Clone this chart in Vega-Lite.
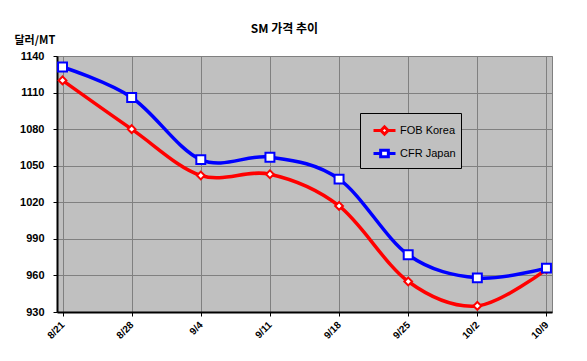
{
  "$schema": "https://vega.github.io/schema/vega-lite/v6.json",
  "width": 495,
  "height": 256,
  "autosize": {"type": "none"},
  "padding": {"left": 57, "top": 56, "right": 35, "bottom": 49},
  "background": "white",
  "title": {
    "text": "SM 가격 추이",
    "font": "Noto Sans CJK KR",
    "fontSize": 12,
    "fontWeight": "bold",
    "color": "black",
    "anchor": "middle",
    "frame": "group",
    "dx": -20,
    "dy": 6
  },
  "config": {
    "view": {"fill": "#C0C0C0", "stroke": "#808080", "strokeWidth": 1},
    "axis": {
      "labelFont": "Liberation Sans",
      "labelFontWeight": "bold",
      "labelFontSize": 11,
      "labelColor": "black",
      "domainColor": "black",
      "domainWidth": 2,
      "tickColor": "black",
      "gridColor": "#808080",
      "gridWidth": 1,
      "gridOpacity": 1
    }
  },
  "data": {
    "values": [
      {"date": "8/21", "series": "FOB Korea", "value": 1120},
      {"date": "8/28", "series": "FOB Korea", "value": 1080},
      {"date": "9/4", "series": "FOB Korea", "value": 1042},
      {"date": "9/11", "series": "FOB Korea", "value": 1043},
      {"date": "9/18", "series": "FOB Korea", "value": 1017},
      {"date": "9/25", "series": "FOB Korea", "value": 955},
      {"date": "10/2", "series": "FOB Korea", "value": 935},
      {"date": "10/9", "series": "FOB Korea", "value": 965},
      {"date": "8/21", "series": "CFR Japan", "value": 1131},
      {"date": "8/28", "series": "CFR Japan", "value": 1106},
      {"date": "9/4", "series": "CFR Japan", "value": 1055},
      {"date": "9/11", "series": "CFR Japan", "value": 1057},
      {"date": "9/18", "series": "CFR Japan", "value": 1039},
      {"date": "9/25", "series": "CFR Japan", "value": 977},
      {"date": "10/2", "series": "CFR Japan", "value": 958},
      {"date": "10/9", "series": "CFR Japan", "value": 966}
    ]
  },
  "encoding": {
    "x": {
      "field": "date",
      "type": "ordinal",
      "sort": ["8/21", "8/28", "9/4", "9/11", "9/18", "9/25", "10/2", "10/9"],
      "scale": {"type": "point", "padding": 0.08},
      "axis": {
        "title": null,
        "labelAngle": -45,
        "labelAlign": "right",
        "labelBaseline": "middle",
        "labelFontSize": 10,
        "labelPadding": 7,
        "tickSize": 4,
        "grid": true
      }
    },
    "y": {
      "field": "value",
      "type": "quantitative",
      "scale": {"domain": [930, 1140], "nice": false, "zero": false},
      "axis": {
        "values": [930, 960, 990, 1020, 1050, 1080, 1110, 1140],
        "format": "d",
        "title": "달러/MT",
        "titleFont": "Noto Sans CJK KR",
        "titleFontSize": 11,
        "titleFontWeight": "bold",
        "titleColor": "black",
        "titleAngle": 0,
        "titleAlign": "left",
        "titleBaseline": "middle",
        "titleX": -43,
        "titleY": -16,
        "tickSize": 4,
        "labelPadding": 9,
        "grid": true
      }
    },
    "color": {
      "field": "series",
      "type": "nominal",
      "scale": {"domain": ["FOB Korea", "CFR Japan"], "range": ["#FF0000", "#0000FF"]},
      "legend": {
        "title": null,
        "orient": "none",
        "legendX": 303,
        "legendY": 57,
        "symbolSize": 484,
        "symbolOffset": 7,
        "labelOffset": 3,
        "labelFont": "Liberation Sans",
        "labelFontSize": 11,
        "labelColor": "black",
        "fillColor": "#C0C0C0",
        "strokeColor": "black",
        "padding": 5,
        "rowPadding": -12,
        "encode": {
          "symbols": {
            "update": {
              "shape": {"signal": "datum.value === 'FOB Korea' ? 'M-1,0L-0.33,0M0.33,0L1,0M-0.33,0L0,-0.33L0.33,0L0,0.33Z' : 'M-1,0L-0.35,0M0.35,0L1,0M-0.35,-0.3L0.35,-0.3L0.35,0.3L-0.35,0.3Z'"},
              "fill": {"value": "white"},
              "fillOpacity": {"value": 1},
              "strokeWidth": {"value": 3},
              "opacity": {"value": 1}
            }
          }
        }
      }
    }
  },
  "layer": [
    {
      "mark": {"type": "line", "interpolate": "cardinal", "strokeWidth": 3.5}
    },
    {
      "transform": [{"filter": "datum.series === 'FOB Korea'"}],
      "mark": {"type": "point", "shape": "diamond", "size": 60, "filled": false, "fill": "white", "fillOpacity": 1, "strokeWidth": 2, "opacity": 1}
    },
    {
      "transform": [{"filter": "datum.series === 'CFR Japan'"}],
      "mark": {"type": "point", "shape": "square", "size": 80, "filled": false, "fill": "white", "fillOpacity": 1, "strokeWidth": 2, "opacity": 1}
    }
  ]
}
